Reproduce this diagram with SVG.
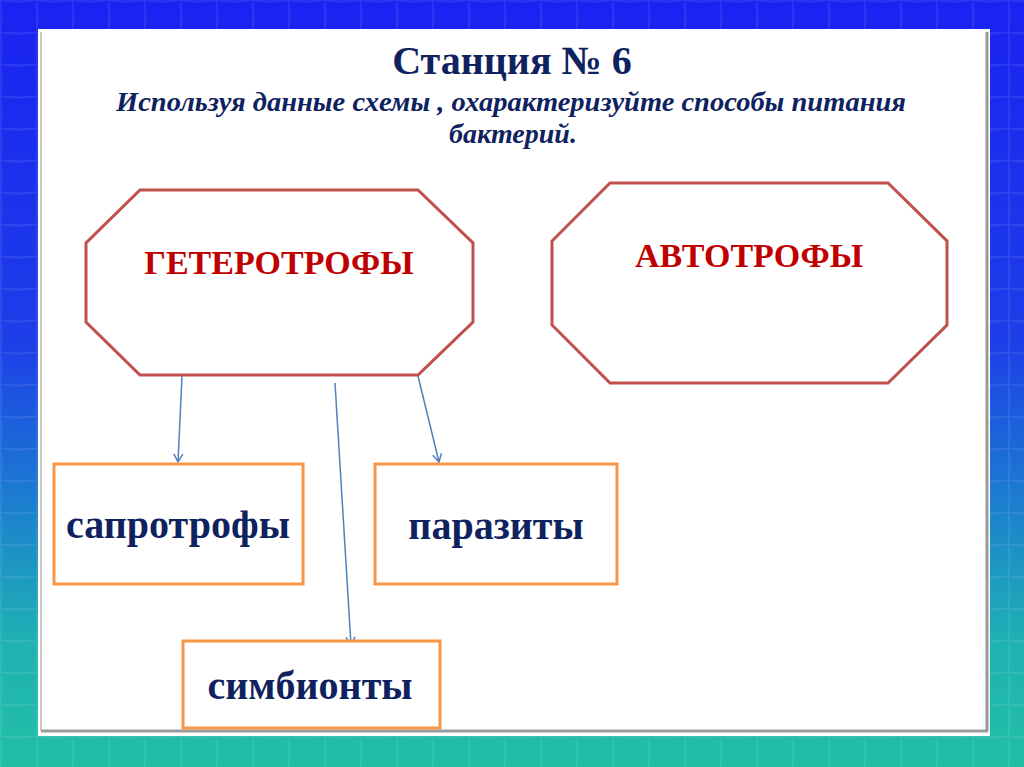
<svg xmlns="http://www.w3.org/2000/svg" width="1024" height="767" viewBox="0 0 1024 767">
<defs>
<linearGradient id="bg" x1="0" y1="0" x2="0" y2="1">
<stop offset="0" stop-color="#1a22f2"/>
<stop offset="0.45" stop-color="#1d3fe8"/>
<stop offset="0.68" stop-color="#1c86cc"/>
<stop offset="0.84" stop-color="#1fb2b2"/>
<stop offset="1" stop-color="#22bfa6"/>
</linearGradient>
<pattern id="grid" width="36" height="32" patternUnits="userSpaceOnUse">
<path d="M0 0 Q18 3 36 0 M0 0 Q3 16 0 32" fill="none" stroke="#ffffff" stroke-opacity="0.09" stroke-width="2"/>
</pattern>
<marker id="arr" markerWidth="12" markerHeight="12" refX="10" refY="6" orient="auto" markerUnits="userSpaceOnUse">
<polyline points="2,1.5 10,6 2,10.5" fill="none" stroke="#4f81bd" stroke-width="1.5"/>
</marker>
<style>
.oct{fill:#ffffff;stroke:#c0504d;stroke-width:3}
.box{fill:#ffffff;stroke:#f79646;stroke-width:3}
.red{font-family:"Liberation Serif",serif;font-weight:bold;fill:#c00000;font-size:34px;text-anchor:middle}
.lbl{font-family:"Liberation Serif",serif;font-weight:bold;fill:#0f2260;font-size:40px;text-anchor:middle}
.ttl{font-family:"Liberation Serif",serif;font-weight:bold;fill:#0f2260;text-anchor:middle}
.con{stroke:#4f81bd;stroke-width:1.5;fill:none}
</style>
</defs>
<rect width="1024" height="767" fill="url(#bg)"/>
<rect width="1024" height="767" fill="url(#grid)"/>
<g id="panel">
<rect x="38" y="29" width="952" height="707" fill="#ffffff"/>
<line x1="41" y1="32" x2="41" y2="731" stroke="#c8c8c8" stroke-width="2"/>
<line x1="987" y1="32" x2="987" y2="731" stroke="#9a9a9a" stroke-width="3"/>
<line x1="41" y1="731" x2="988" y2="731" stroke="#9a9a9a" stroke-width="3"/>
</g>
<g id="title">
<text x="512" y="74" class="ttl" font-size="40">Станция № 6</text>
<text x="511" y="111" class="ttl" font-size="28" font-style="italic" textLength="790" lengthAdjust="spacingAndGlyphs">Используя данные схемы , охарактеризуйте способы питания</text>
<text x="513" y="143" class="ttl" font-size="28" font-style="italic">бактерий.</text>
</g>
<g id="connectors">
<line class="con" x1="182" y1="376" x2="178" y2="462" marker-end="url(#arr)"/>
<line class="con" x1="335" y1="383" x2="351" y2="645" marker-end="url(#arr)"/>
<line class="con" x1="418" y1="376" x2="439" y2="462" marker-end="url(#arr)"/>
</g>
<g id="heterotrophs">
<polygon class="oct" points="140,190 418,190 473,243 473,322 418,375 140,375 86,322 86,243"/>
<text x="279" y="274" class="red">ГЕТЕРОТРОФЫ</text>
</g>
<g id="autotrophs">
<polygon class="oct" points="610,183 888,183 947,241 947,325 888,383 610,383 552,325 552,241"/>
<text x="749" y="267" class="red">АВТОТРОФЫ</text>
</g>
<g id="saprotrophs">
<rect class="box" x="54" y="464" width="249" height="120"/>
<text x="178" y="538" class="lbl">сапротрофы</text>
</g>
<g id="parasites">
<rect class="box" x="375" y="464" width="242" height="120"/>
<text x="496" y="539" class="lbl">паразиты</text>
</g>
<g id="symbionts">
<rect class="box" x="183" y="641" width="257" height="87"/>
<text x="310" y="699" class="lbl">симбионты</text>
</g>
</svg>
